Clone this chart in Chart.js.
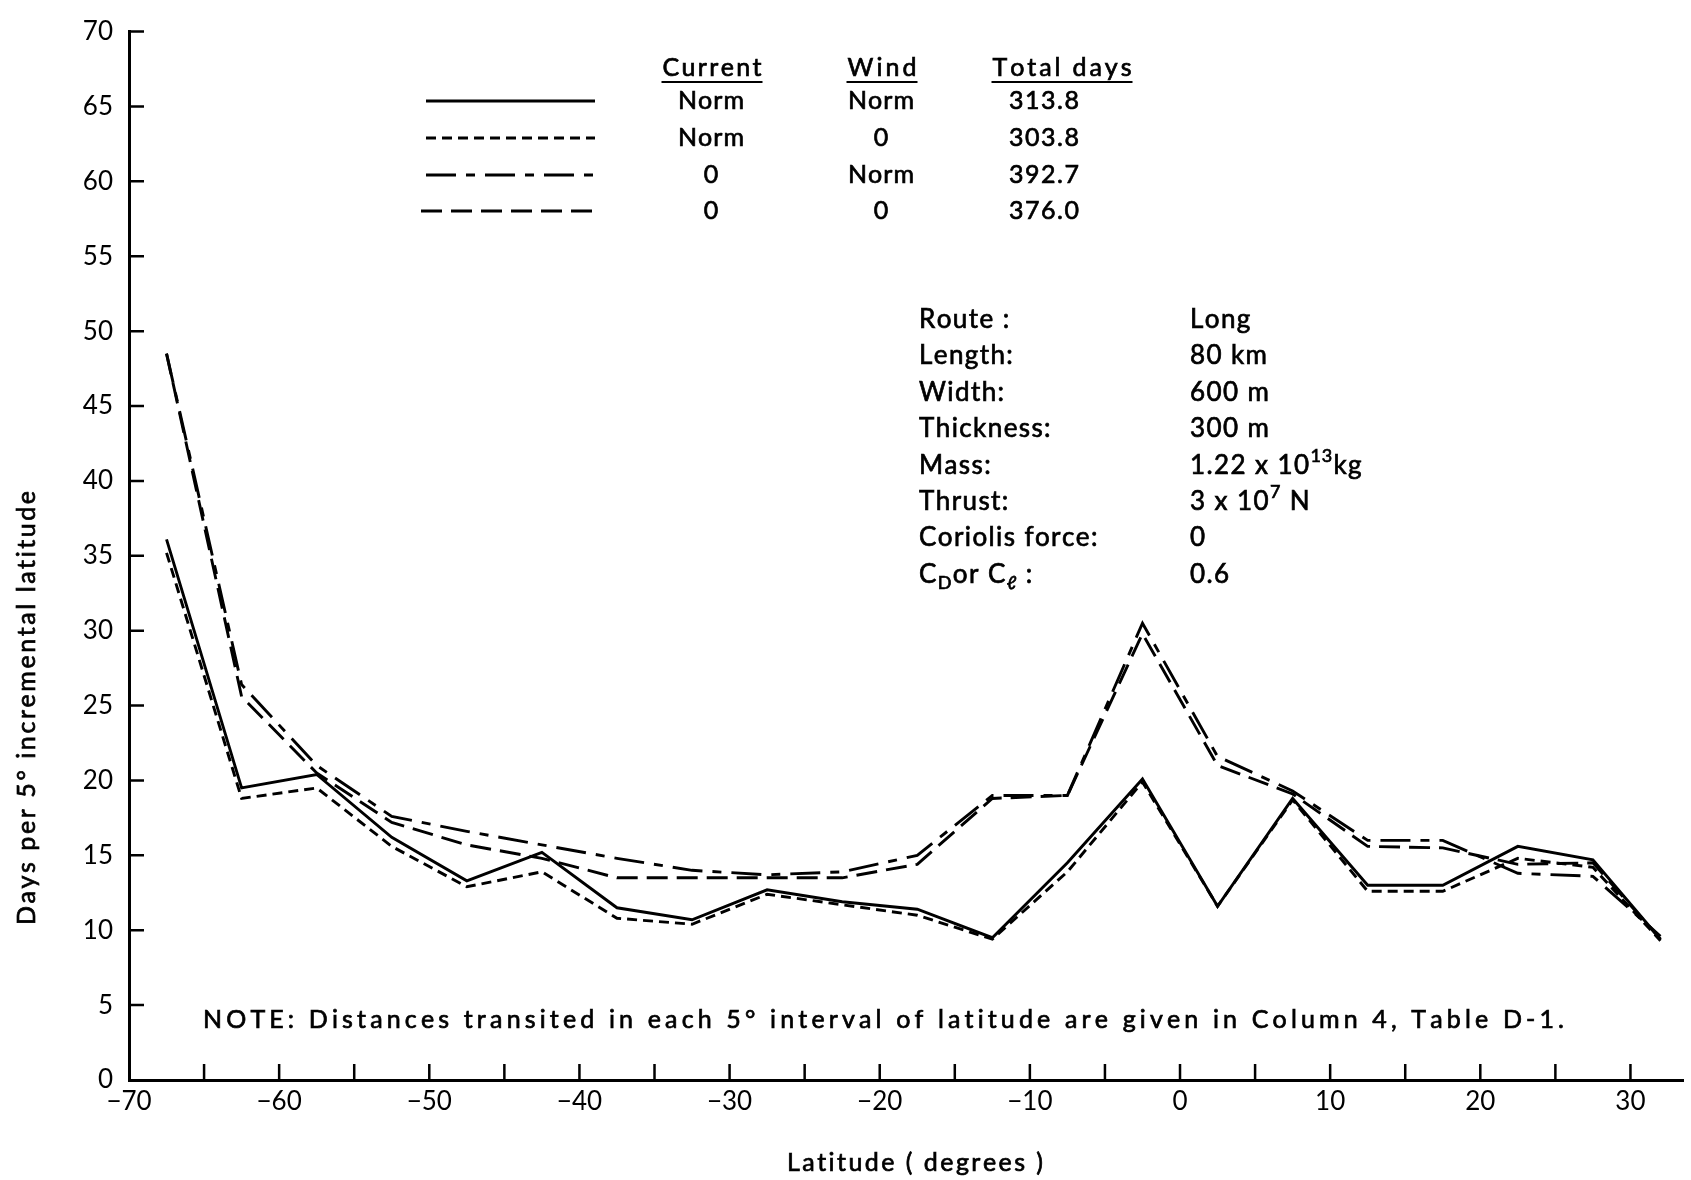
<!DOCTYPE html>
<html>
<head>
<meta charset="utf-8">
<title>Days per 5° incremental latitude</title>
<script src="https://cdn.jsdelivr.net/npm/chart.js@4.4.1/dist/chart.umd.min.js"></script>
<style>
  html, body { margin: 0; padding: 0; background: #fff; }
  #wrap { width: 1691px; height: 1180px; }
</style>
</head>
<body>
<div id="wrap"><canvas id="chart" width="1691" height="1180"></canvas></div>
<script>
// Midpoints of the 5 degree latitude bands (last band is shorter)
const latitudes = [-67.5, -62.5, -57.5, -52.5, -47.5, -42.5, -37.5, -32.5, -27.5, -22.5, -17.5,
                   -12.5, -7.5, -2.5, 2.5, 7.5, 12.5, 17.5, 22.5, 27.5, 32];

// Days per 5 degree band for each current / wind combination
const normNorm = [36.1, 19.5, 20.4, 16.2, 13.3, 15.2, 11.5, 10.7, 12.7, 11.9, 11.4,
                  9.5, 14.5, 20.1, 11.6, 18.8, 13.0, 13.0, 15.6, 14.7, 9.4];
const normZero = [35.2, 18.8, 19.5, 15.6, 12.9, 13.9, 10.8, 10.4, 12.4, 11.7, 11.0,
                  9.4, 13.9, 19.9, 11.6, 18.7, 12.6, 12.6, 14.8, 14.2, 9.3];
const zeroNorm = [48.5, 26.4, 21.0, 17.6, 16.6, 15.7, 14.8, 14.0, 13.7, 13.9, 15.0,
                  19.0, 19.0, 30.5, 21.6, 19.3, 16.0, 16.0, 13.8, 13.6, 9.6];
const zeroZero = [48.5, 25.6, 20.5, 17.2, 15.7, 14.8, 13.5, 13.5, 13.5, 13.5, 14.4,
                  18.8, 19.0, 29.8, 21.0, 19.1, 15.6, 15.5, 14.4, 14.5, 9.4];

// Legend table
const currentCol = ['Norm', 'Norm', '0', '0'];
const windCol = ['Norm', '0', 'Norm', '0'];
const totalDays = ['313.8', '303.8', '392.7', '376.0'];

// Iceberg parameters box
const paramLabels = ['Route :', 'Length:', 'Width:', 'Thickness:', 'Mass:', 'Thrust:', 'Coriolis force:', null];
const paramValues = ['Long', '80 km', '600 m', '300 m', null, null, '0', '0.6'];

const FONT = 'Lato, "Noto Sans", sans-serif';
const INK = '#000';

// solid, short dash, dash-dot, long dash
const styles = [
  { dash: [], width: 2.9 },
  { dash: [10, 6], width: 2.9 },
  { dash: [30, 10, 9, 10], width: 2.9 },
  { dash: [21, 9], width: 2.9 }
];

const toPoints = vals => latitudes.map((lat, i) => ({ x: lat, y: vals[i] }));

function fmtLat(v) {
  if (v % 10 !== 0) return '';
  return v < 0 ? '\u2212' + Math.abs(v) : String(v);
}

// draw text char by char with extra spacing (slight stroke to mimic the heavier print)
function spacedText(ctx, text, x, y, spacing, align) {
  const chars = Array.from(text);
  const widths = chars.map(c => ctx.measureText(c).width);
  const total = widths.reduce((a, b) => a + b, 0) + spacing * (chars.length - 1);
  let cx = align === 'center' ? x - total / 2 : (align === 'right' ? x - total : x);
  ctx.textAlign = 'left';
  ctx.save();
  ctx.lineWidth = 0.7;
  ctx.setLineDash([]);
  chars.forEach((c, i) => {
    ctx.fillText(c, cx, y);
    ctx.strokeText(c, cx, y);
    cx += widths[i] + spacing;
  });
  ctx.restore();
  return total;
}

function fitText(ctx, text, x, y, width, align) {
  const chars = Array.from(text);
  const natural = chars.reduce((s, c) => s + ctx.measureText(c).width, 0);
  const spacing = (width - natural) / Math.max(1, chars.length - 1);
  return spacedText(ctx, text, x, y, spacing, align);
}

// pieces: [text, 'sup'|'sub'|undefined]
function richText(ctx, pieces, x, y, size, spacing) {
  let cx = x;
  pieces.forEach(([t, kind]) => {
    if (kind) {
      ctx.font = Math.round(size * 0.68) + 'px ' + FONT;
      const dy = kind === 'sup' ? -size * 0.38 : size * 0.32;
      cx += spacedText(ctx, t, cx, y + dy, spacing * 0.6, 'left') + spacing;
    } else {
      ctx.font = size + 'px ' + FONT;
      cx += spacedText(ctx, t, cx, y, spacing, 'left') + spacing;
    }
  });
}

const inwardTicks = {
  id: 'inwardTicks',
  afterDraw(chart) {
    const { ctx, chartArea, scales: { x, y } } = chart;
    ctx.save();
    ctx.strokeStyle = INK;
    ctx.lineWidth = 2.5;
    ctx.beginPath();
    y.ticks.forEach(t => {
      if (t.value === y.min) return;
      const py = y.getPixelForValue(t.value);
      ctx.moveTo(chartArea.left, py);
      ctx.lineTo(chartArea.left + 15, py);
    });
    x.ticks.forEach(t => {
      if (t.value === x.min) return;
      const px = x.getPixelForValue(t.value);
      ctx.moveTo(px, chartArea.bottom);
      ctx.lineTo(px, chartArea.bottom - 16);
    });
    ctx.stroke();
    ctx.restore();
  }
};

const annotations = {
  id: 'annotations',
  afterDraw(chart) {
    const ctx = chart.ctx;
    ctx.save();
    ctx.fillStyle = INK;
    ctx.strokeStyle = INK;
    ctx.textBaseline = 'middle';

    // legend table headers
    ctx.font = '25px ' + FONT;
    const heads = [['Current', 712, 99], ['Wind', 882, 69], ['Total days', 1062, 139]];
    heads.forEach(([t, cx, w]) => {
      fitText(ctx, t, cx - w / 2, 68, w, 'left');
      ctx.lineWidth = 2.2;
      ctx.beginPath();
      ctx.moveTo(cx - w / 2 - 1, 82);
      ctx.lineTo(cx + w / 2 + 1, 82);
      ctx.stroke();
    });

    // legend rows
    const rowY = [101, 138, 175, 211];
    rowY.forEach((ry, i) => {
      ctx.font = '25px ' + FONT;
      spacedText(ctx, currentCol[i], 711, ry, 1, 'center');
      spacedText(ctx, windCol[i], 881, ry, 1, 'center');
      spacedText(ctx, totalDays[i], 1044, ry, 1.5, 'center');
      ctx.save();
      ctx.lineWidth = styles[i].width;
      ctx.setLineDash(styles[i].dash);
      ctx.beginPath();
      ctx.moveTo(i === 3 ? 421 : 426, ry);
      ctx.lineTo(595, ry);
      ctx.stroke();
      ctx.restore();
    });

    // parameters box
    const pY = [320, 356, 393, 429, 466, 502, 538, 575];
    paramLabels.forEach((t, i) => {
      if (t) { ctx.font = '26px ' + FONT; spacedText(ctx, t, 919, pY[i], 1.4, 'left'); }
    });
    paramValues.forEach((t, i) => {
      if (t) { ctx.font = '26px ' + FONT; spacedText(ctx, t, 1190, pY[i], 1.4, 'left'); }
    });
    richText(ctx, [['C'], ['D', 'sub'], ['or C'], ['\u2113', 'sub'], [' :']], 919, pY[7], 26, 1.4);
    richText(ctx, [['1.22 x 10'], ['13', 'sup'], ['kg']], 1190, pY[4], 26, 1.4);
    richText(ctx, [['3 x 10'], ['7', 'sup'], [' N']], 1190, pY[5], 26, 1.4);

    // note
    ctx.font = '25px ' + FONT;
    fitText(ctx, 'NOTE: Distances transited in each 5\u00b0 interval of latitude are given in Column 4, Table D-1.',
      203, 1020, 1361, 'left');

    // axis titles
    ctx.font = '25px ' + FONT;
    fitText(ctx, 'Latitude ( degrees )', 787, 1163, 256, 'left');
    ctx.translate(27, 708);
    ctx.rotate(-Math.PI / 2);
    fitText(ctx, 'Days per 5\u00b0 incremental latitude', -217, 0, 434, 'left');
    ctx.restore();
  }
};

const seriesOrder = ['Current Norm, Wind Norm', 'Current Norm, Wind 0', 'Current 0, Wind Norm', 'Current 0, Wind 0'];

new Chart(document.getElementById('chart').getContext('2d'), {
  type: 'line',
  data: {
    datasets: [
      { label: 'Current 0, Wind 0', data: toPoints(zeroZero) },
      { label: 'Current 0, Wind Norm', data: toPoints(zeroNorm) },
      { label: 'Current Norm, Wind 0', data: toPoints(normZero) },
      { label: 'Current Norm, Wind Norm', data: toPoints(normNorm) }
    ].map(ds => {
      const st = styles[seriesOrder.indexOf(ds.label)];
      return Object.assign(ds, {
        borderColor: INK,
        borderWidth: st.width,
        borderDash: st.dash,
        pointRadius: 0,
        fill: false,
        tension: 0
      });
    })
  },
  options: {
    responsive: false,
    animation: false,
    devicePixelRatio: 1,
    layout: { padding: { left: 0, right: 8, top: 24, bottom: 0 } },
    plugins: { legend: { display: false }, tooltip: { enabled: false } },
    scales: {
      x: {
        type: 'linear',
        min: -70,
        max: 33.5,
        border: { display: true, color: INK, width: 3 },
        grid: { display: true, drawOnChartArea: false, drawTicks: false },
        ticks: {
          stepSize: 5,
          includeBounds: false,
          autoSkip: false,
          maxRotation: 0,
          padding: 6,
          color: INK,
          font: { family: FONT, size: 26 },
          callback: v => fmtLat(v)
        },
        afterFit: s => { s.height = 100; }
      },
      y: {
        min: 0,
        max: 70,
        border: { display: true, color: INK, width: 3 },
        grid: { display: true, drawOnChartArea: false, drawTicks: false },
        ticks: {
          stepSize: 5,
          padding: 16,
          color: INK,
          font: { family: FONT, size: 26 }
        },
        afterFit: s => { s.width = 129; }
      }
    }
  },
  plugins: [inwardTicks, annotations]
});
</script>
</body>
</html>
